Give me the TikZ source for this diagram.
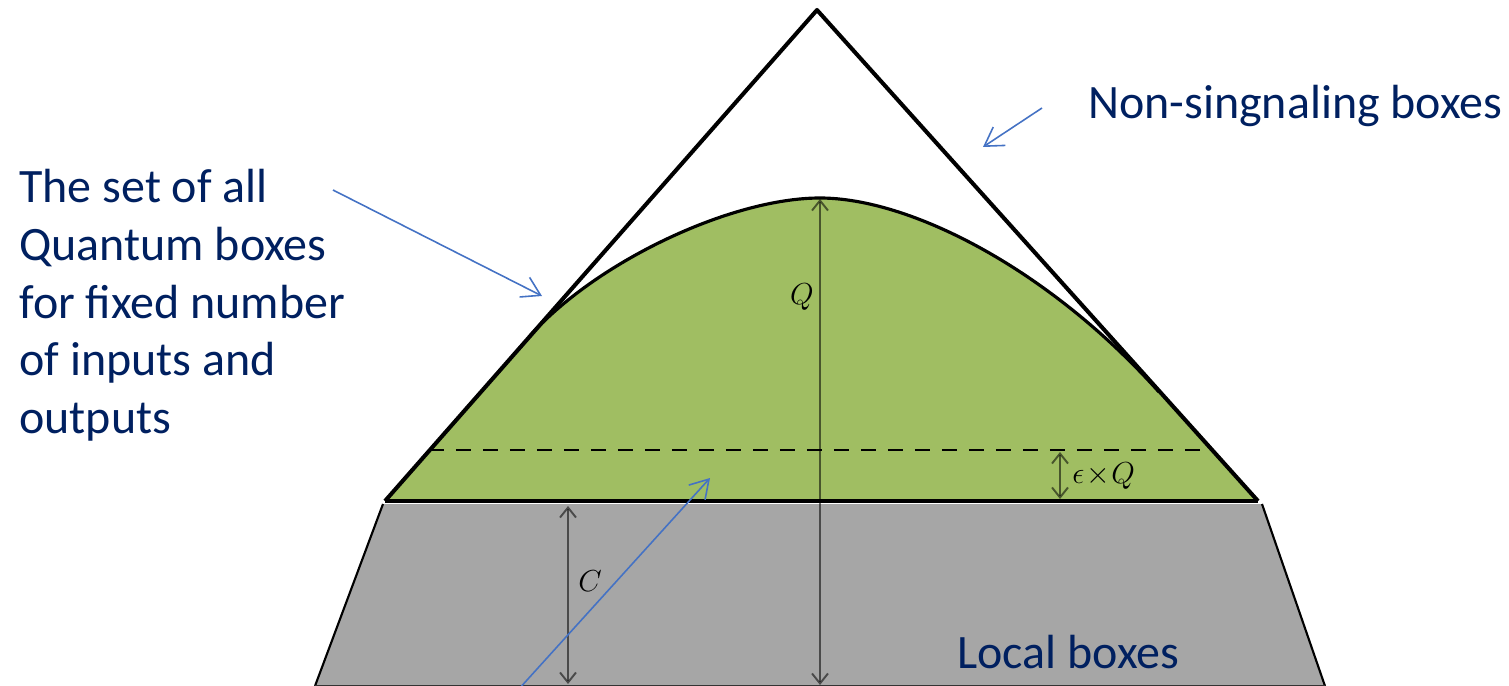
\documentclass[tikz,border=0pt]{standalone}
\usepackage{fontspec}
\setmainfont{Carlito}
\usepackage{amsmath}
\usetikzlibrary{arrows.meta}
\definecolor{navy}{RGB}{0,32,96}
\definecolor{arrowblue}{RGB}{68,114,196}
\definecolor{qgreen}{RGB}{160,190,98}
\definecolor{lgray}{RGB}{166,166,166}
\tikzset{
  bigtext/.style={font=\fontsize{27.3pt}{32.8pt}\selectfont, text=navy, inner sep=0pt},
  mathlbl/.style={font=\fontsize{18.5pt}{22pt}\selectfont, inner sep=0pt},
  pointer/.style={draw=arrowblue, line width=0.9pt, -{Straight Barb[length=3.6mm,width=4.4mm]}},
  measure/.style={draw=black, draw opacity=0.55, line width=1.1pt, {Straight Barb[length=2mm,width=3.2mm]}-{Straight Barb[length=2mm,width=3.2mm]}},
  outline/.style={draw=black, line width=2.3pt, line join=round}
}
\begin{document}
\begin{tikzpicture}[x=0.02cm,y=-0.02cm]
\useasboundingbox (0,0) rectangle (1509,686);
% coordinates
\coordinate (apex) at (817,10);
\coordinate (bl) at (385,501);
\coordinate (br) at (1258,501);
\coordinate (tl) at (529,337);
\coordinate (tr) at (1159,392);
\coordinate (peak) at (820,198);
\coordinate (gtl) at (383,504);
\coordinate (gtr) at (1262,504);
\coordinate (gbl) at (315,686);
\coordinate (gbr) at (1325,686);
% local polytope (gray)
\fill[lgray] (gtl) -- (gtr) -- (gbr) -- (gbl) -- cycle;
\draw[black, line width=1.2pt] (gtl) -- (gbl);
\draw[black, line width=1.2pt] (gtr) -- (gbr);
\draw[black!80, line width=1.5pt] (gbl) -- (gbr);
% quantum set (green)
\fill[qgreen] (bl) -- (tl) .. controls (594,263) and (730,198) .. (peak)
  .. controls (910,198) and (1049,269) .. (tr) -- (br) -- cycle;
\draw[black, line width=1.8pt] (tl) .. controls (594,263) and (730,198) .. (peak)
  .. controls (910,198) and (1049,269) .. (tr);
% dashed level
\coordinate (dl) at (429,450);
\coordinate (dr) at (1210,450);
\draw[black, line width=1.3pt, dash pattern=on 0.3cm off 0.24cm] (dl) -- (dr);
% base line of green
\draw[black, line width=2.8pt] (bl) -- (br);
% triangle
\draw[outline] (bl) -- (apex) -- (br);
% measurement arrows
\coordinate (vtop) at (820,199);
\coordinate (vbot) at (820,685);
\draw[measure] (vtop) -- (vbot);
\coordinate (ctop) at (568,506);
\coordinate (cbot) at (568,684);
\draw[measure] (ctop) -- (cbot);
\coordinate (etop) at (1060,452);
\coordinate (ebot) at (1060,499);
\draw[measure] (etop) -- (ebot);
% labels
\node[mathlbl] (Qlbl) at (802,297) {$Q$};
\node[mathlbl] (Clbl) at (590,581) {$C$};
\node[mathlbl, anchor=west] (eQlbl) at (1072,476) {$\epsilon\!\times\! Q$};
% texts
\node[bigtext, anchor=base west] (ns) at (1088,119) {Non-singnaling boxes};
\node[bigtext, anchor=base west] (qs) at (19,203) {\begin{tabular}[t]{@{}l@{}}The set of all\\Quantum boxes\\for fixed number\\of inputs and\\outputs\end{tabular}};
\node[bigtext, anchor=base west] (lb) at (957,668) {Local boxes};
% pointers
\coordinate (p1s) at (1042,108);
\coordinate (p1e) at (983,147);
\draw[pointer] (p1s) -- (p1e);
\coordinate (p2s) at (333,190);
\coordinate (p2e) at (542,296);
\draw[pointer] (p2s) -- (p2e);
\coordinate (p3s) at (518,690);
\coordinate (p3e) at (710,478);
\draw[pointer] (p3s) -- (p3e);
\end{tikzpicture}
\end{document}
